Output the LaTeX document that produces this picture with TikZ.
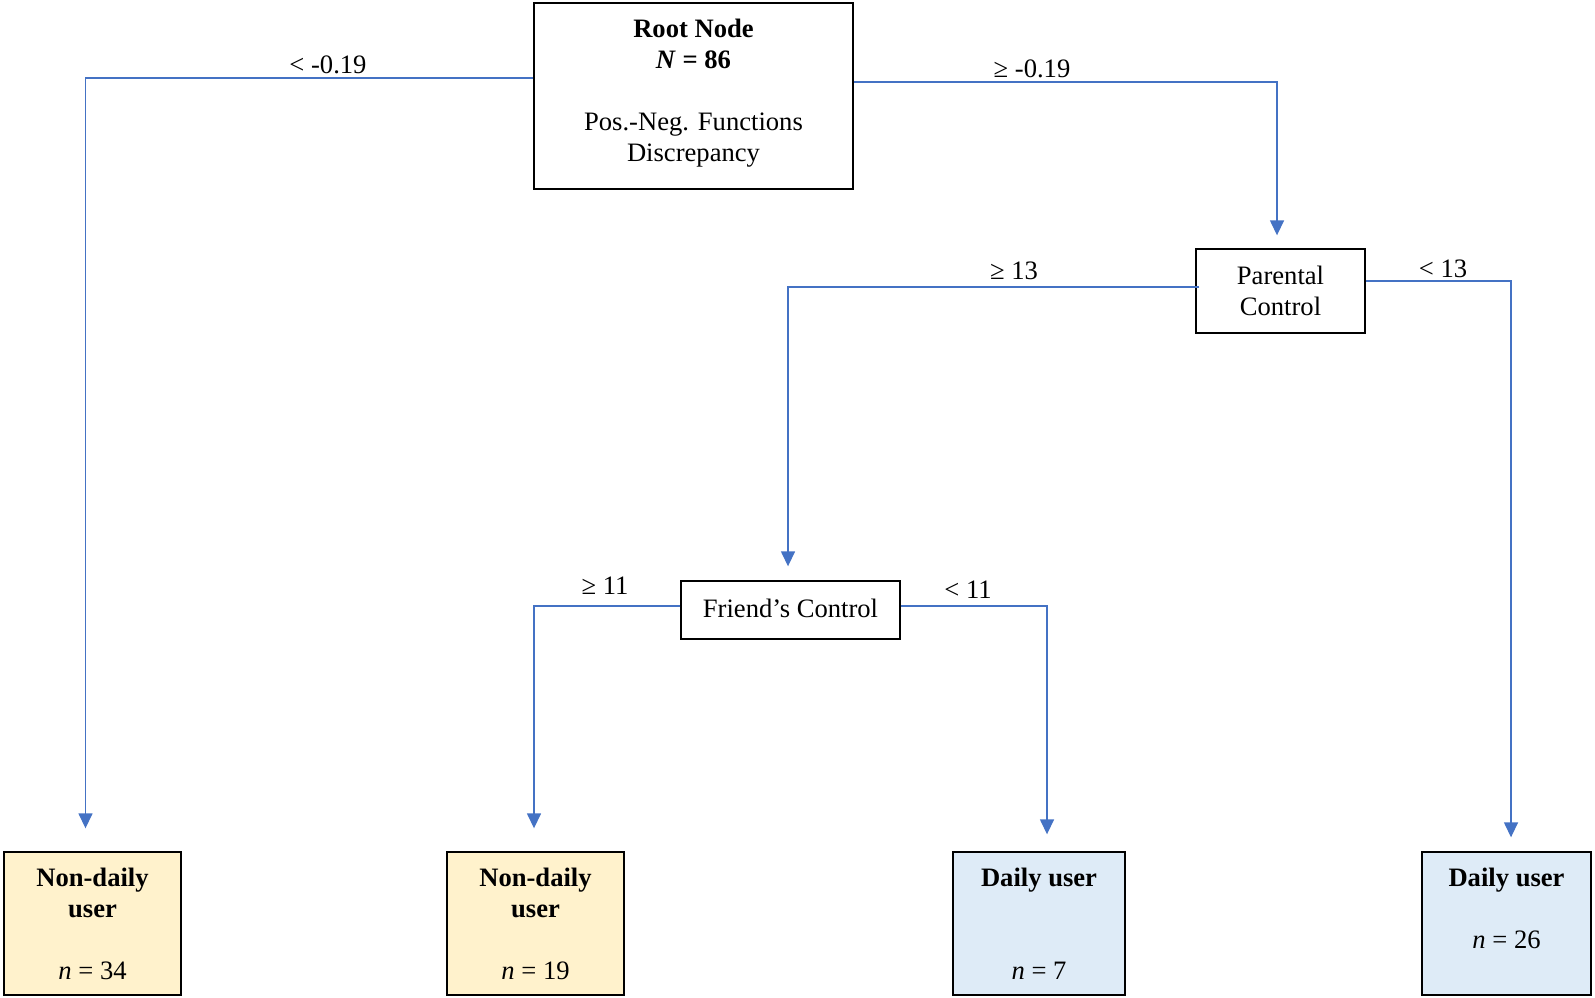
\documentclass[tikz,border=0pt]{standalone}
\usepackage{fontspec}
\setmainfont{Liberation Serif}
\usepackage{xcolor}
\usetikzlibrary{arrows.meta}

\definecolor{linkblue}{HTML}{4472C4}
\definecolor{leafyellow}{HTML}{FFF2CC}
\definecolor{leafblue}{HTML}{DEEBF7}

\begin{document}
\begin{tikzpicture}[
            x=0.5pt, y=-0.5pt,
            font=\fontsize{13.3}{15.5}\selectfont,
            >={Triangle[length=7.5pt, width=7pt]},
            split/.style={rectangle, draw, line width=0.7pt, align=center, inner sep=0pt},
            leaf/.style={rectangle, draw, line width=0.7pt, align=center, inner sep=0pt,
                    minimum height=71.5pt},
            nonuser/.style={leaf, fill=leafyellow},
            dailyuser/.style={leaf, fill=leafblue},
            branch/.style={->, line width=0.75pt, linkblue},
            cut/.style={inner sep=0pt},
            ]

            \useasboundingbox (0,0) rectangle (1595,997);

            \node[split, minimum width=159.5pt, minimum height=93pt, text depth=5.9pt] (root) at (693.5,96)
                {\textbf{Root Node}\\\textbf{\textit{N} = 86}\\~\\Pos.-Neg. Functions\\Discrepancy};
            \node[split, minimum width=84.5pt, minimum height=42pt] (parent) at (1280.5,291)
                {Parental\\Control};
            \node[split, minimum width=109.5pt, minimum height=29pt, text depth=1.5pt] (friend) at (790.5,610)
                {Friend’s Control};

            \node[nonuser, minimum width=88.5pt] (leafA) at (92.5,923.5)
                {\textbf{Non-daily}\\\textbf{user}\\~\\\textit{n} = 34};
            \node[nonuser, minimum width=88.5pt] (leafB) at (535.5,923.5)
                {\textbf{Non-daily}\\\textbf{user}\\~\\\textit{n} = 19};
            \node[dailyuser, minimum width=86pt] (leafC) at (1039,923.5)
                {\textbf{Daily user}\\~\\~\\\textit{n} = 7};
            \node[dailyuser, minimum width=84.5pt] (leafD) at (1506.5,923.5)
                {\textbf{Daily user}\\~\\\textit{n} = 26\\~};

            % split thresholds
            \node[cut] (cutA) at (328,65) {< -0.19};
            \node[cut] (cutB) at (1032,69) {≥ -0.19};
            \node[cut] (cutC) at (1014,271) {≥ 13};
            \node[cut] (cutD) at (1443,269) {< 13};
            \node[cut] (cutE) at (605,586) {≥ 11};
            \node[cut] (cutF) at (968,590) {< 11};

            \draw[branch] ([yshift=9pt]root.west) -| ([xshift=-3.5pt, yshift=11.5pt]leafA.north);
            \draw[branch] ([yshift=7pt]root.east) -| ([xshift=-1.75pt, yshift=6.5pt]parent.north);
            \draw[branch] ([xshift=2pt, yshift=2pt]parent.west) -| ([xshift=-1.25pt, yshift=7pt]friend.north);
            \draw[branch] ([yshift=5pt]parent.east) -| ([xshift=2.25pt, yshift=7pt]leafD.north);
            \draw[branch] ([yshift=2pt]friend.west) -| ([xshift=-0.75pt, yshift=11.5pt]leafB.north);
            \draw[branch] ([yshift=2pt]friend.east) -| ([xshift=4pt, yshift=8.5pt]leafC.north);

        \end{tikzpicture}
\end{document}
